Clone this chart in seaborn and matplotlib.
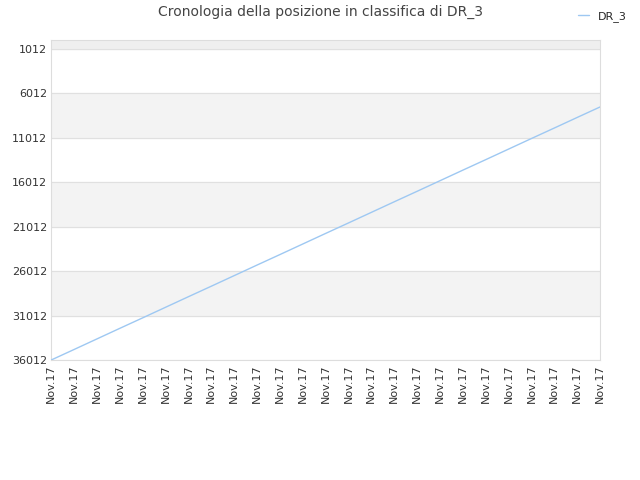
import matplotlib
matplotlib.use('Agg')
import matplotlib.pyplot as plt
import seaborn as sns
import pandas as pd

# Posizione in classifica (un punto per ogni etichetta)
date_labels = ['Nov.17'] * 25
posizioni = [36012, 34830, 33640, 32450, 31270, 30080, 28890, 27710,
             26520, 25330, 24150, 22960, 21770, 20590, 19400, 18210,
             17030, 15840, 14650, 13470, 12280, 11090, 9910, 8720, 7540]
y_ticks = [1012, 6012, 11012, 16012, 21012, 26012, 31012, 36012]

df = pd.DataFrame({'idx': range(len(posizioni)), 'pos': posizioni})

sns.set_style('white')
plt.rcParams['font.family'] = ['DejaVu Sans']

fig = plt.figure(figsize=(6.4, 4.8), dpi=100)
ax = fig.add_axes([0.08, 0.25, 0.8575, 0.6667])

# bande alternate di sfondo
ax.axhspan(0, 1012, color='#efefef', zorder=0)
for i in range(len(y_ticks) - 1):
    if i % 2 == 1:
        ax.axhspan(y_ticks[i], y_ticks[i + 1], color='#f3f3f3', zorder=0)
for t in y_ticks:
    ax.axhline(t, color='#e0e0e0', linewidth=0.8, zorder=1)

sns.lineplot(data=df, x='idx', y='pos', ax=ax, color='#9ec8f2',
             linewidth=1.0, label='DR_3', zorder=3)

ax.set_xlim(0, len(posizioni) - 1)
ax.set_ylim(36012, 0)
ax.set_yticks(y_ticks)
ax.set_yticklabels([str(t) for t in y_ticks], fontsize=8, color='#333333')
ax.set_xticks(range(len(date_labels)))
ax.set_xticklabels(date_labels, rotation=90, fontsize=8, color='#333333')
ax.set_xlabel('')
ax.set_ylabel('')
ax.tick_params(axis='both', length=0, pad=3)
for s in ax.spines.values():
    s.set_color('#dddddd')
    s.set_linewidth(0.8)

fig.suptitle('Cronologia della posizione in classifica di DR_3', x=0.5, y=0.99,
             fontsize=10, color='#444444')
ax.legend(loc='upper right', bbox_to_anchor=(0.995, 0.998),
          bbox_transform=fig.transFigure, frameon=False, fontsize=8,
          handlelength=1.0)

fig.savefig('out.png', dpi=100)
